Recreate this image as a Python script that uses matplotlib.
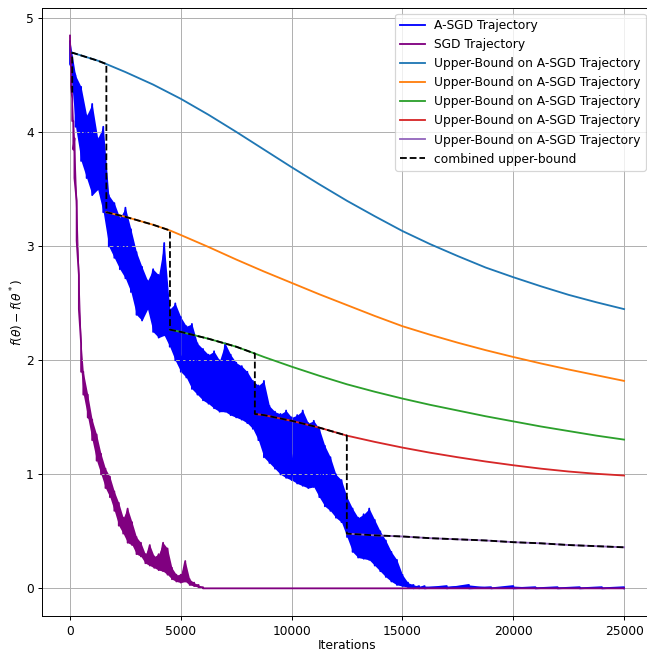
import numpy as np
import matplotlib.pyplot as plt

# A-SGD trajectory, noisy band (upper / lower edge)
asgd_it = list(range(0, 16001, 250)) + [17000, 18000, 19000, 20000, 21000, 22000, 23000, 24000, 25000]
asgd_hi = [4.80, 4.50, 4.40, 4.15, 4.25, 3.95, 4.05, 3.45, 3.38, 3.25, 3.34, 3.15, 2.95, 2.82, 2.70, 2.80,
           2.75, 3.03, 2.45, 2.50, 2.38, 2.30, 2.32, 2.15, 2.10, 2.05, 2.08, 2.00, 2.15, 2.05, 1.98, 1.95,
           1.90, 1.82, 1.78, 1.82, 1.60, 1.55, 1.53, 1.56, 1.50, 1.52, 1.56, 1.45, 1.47, 1.40, 1.25, 1.15,
           1.00, 0.95, 0.80, 0.70, 0.62, 0.65, 0.70, 0.60, 0.50, 0.42, 0.32, 0.25, 0.12, 0.05, 0.03, 0.02,
           0.02, 0.02, 0.03, 0.01, 0.02, 0.01, 0.01, 0.01, 0.01, 0.01]
asgd_lo = [4.60, 4.05, 3.75, 3.60, 3.45, 3.50, 3.30, 3.00, 2.90, 2.80, 2.72, 2.60, 2.40, 2.35, 2.45, 2.25,
           2.20, 2.22, 2.12, 2.00, 1.90, 1.85, 1.75, 1.70, 1.65, 1.62, 1.58, 1.55, 1.55, 1.52, 1.50, 1.48,
           1.45, 1.40, 1.30, 1.15, 1.10, 1.05, 1.00, 0.97, 0.95, 0.92, 0.90, 0.88, 0.89, 0.80, 0.72, 0.68,
           0.62, 0.58, 0.45, 0.32, 0.27, 0.26, 0.25, 0.20, 0.15, 0.10, 0.06, 0.03, 0.02, 0.01, 0.00, 0.00,
           0.00, 0.00, 0.00, 0.00, 0.00, 0.00, 0.00, 0.00, 0.00, 0.00]

# SGD trajectory
sgd_it = [0, 50, 100, 150, 200, 300, 400, 500, 600, 800, 1000, 1200, 1400, 1600, 1800, 2000, 2200, 2400,
          2600, 2800, 3000, 3200, 3400, 3600, 3800, 4000, 4200, 4400, 4600, 4800, 5000, 5200, 5400, 5600,
          5800, 6000, 6200, 25000]
sgd_hi = [4.85, 4.55, 4.30, 4.10, 3.95, 3.40, 2.75, 2.15, 1.90, 1.70, 1.48, 1.35, 1.18, 1.05, 0.98, 0.85,
          0.75, 0.62, 0.70, 0.58, 0.45, 0.40, 0.30, 0.38, 0.28, 0.30, 0.40, 0.35, 0.18, 0.12, 0.12, 0.24,
          0.08, 0.05, 0.03, 0.01, 0.00, 0.00]
sgd_lo = [4.80, 4.40, 4.10, 3.85, 3.60, 3.05, 2.45, 1.90, 1.70, 1.50, 1.30, 1.12, 1.00, 0.88, 0.80, 0.68,
          0.55, 0.48, 0.40, 0.38, 0.30, 0.28, 0.22, 0.20, 0.18, 0.16, 0.15, 0.12, 0.08, 0.06, 0.05, 0.06,
          0.03, 0.02, 0.01, 0.00, 0.00, 0.00]

# upper bounds, one per restart
ub1_it = [100, 1250, 1640, 2500, 3750, 5000, 6250, 7500, 8750, 10000, 11250, 12500, 13750, 15000,
          16250, 17500, 18750, 20000, 21250, 22500, 23750, 25000]
ub1 = [4.70, 4.63, 4.60, 4.53, 4.42, 4.295, 4.155, 4.005, 3.85, 3.695, 3.545, 3.40, 3.265, 3.135,
       3.02, 2.915, 2.815, 2.73, 2.65, 2.575, 2.51, 2.45]
ub2_it = [1640, 2500, 3750, 4510, 5000, 6250, 7500, 8750, 10000, 11250, 12500, 13750, 15000,
          16250, 17500, 18750, 20000, 21250, 22500, 23750, 25000]
ub2 = [3.30, 3.26, 3.19, 3.14, 3.10, 2.995, 2.885, 2.78, 2.68, 2.58, 2.485, 2.39, 2.30,
       2.225, 2.155, 2.09, 2.03, 1.973, 1.92, 1.87, 1.82]
ub3_it = [4510, 5000, 6250, 7500, 8340, 8750, 10000, 11250, 12500, 13750, 15000,
          16250, 17500, 18750, 20000, 21250, 22500, 23750, 25000]
ub3 = [2.27, 2.25, 2.19, 2.12, 2.06, 2.03, 1.945, 1.865, 1.79, 1.725, 1.665,
       1.61, 1.56, 1.51, 1.465, 1.42, 1.38, 1.34, 1.305]
ub4_it = [8340, 8750, 10000, 11250, 12490, 13750, 15000, 16250, 17500, 18750, 20000, 21250, 22500, 23750, 25000]
ub4 = [1.53, 1.52, 1.47, 1.41, 1.34, 1.285, 1.235, 1.19, 1.15, 1.113, 1.08, 1.05, 1.025, 1.005, 0.99]
ub5_it = [12490, 13750, 15000, 16250, 17500, 18750, 20000, 21250, 22500, 23750, 25000]
ub5 = [0.48, 0.465, 0.455, 0.44, 0.43, 0.42, 0.405, 0.395, 0.38, 0.37, 0.36]

restarts = [1640, 4510, 8340, 12490]
combined_start = 4.35

DPI = 88
fig = plt.figure(figsize=(647 / DPI, 651 / DPI), dpi=DPI)
ax = fig.add_axes([0.0654, 0.0538, 0.942, 0.934])

# trajectories: band + zigzag line between edges
ax.fill_between(asgd_it, asgd_lo, asgd_hi, color="blue", lw=0)
ax.plot(np.repeat(asgd_it, 2), np.column_stack([asgd_hi, asgd_lo]).ravel(), color="blue", lw=1.5,
        label="A-SGD Trajectory")
ax.fill_between(sgd_it, sgd_lo, sgd_hi, color="purple", lw=0)
ax.plot(np.repeat(sgd_it, 2), np.column_stack([sgd_hi, sgd_lo]).ravel(), color="purple", lw=1.5,
        label="SGD Trajectory")

bounds = [(ub1_it, ub1), (ub2_it, ub2), (ub3_it, ub3), (ub4_it, ub4), (ub5_it, ub5)]
cols = ["tab:blue", "tab:orange", "tab:green", "tab:red", "tab:purple"]
for (its, vals), c in zip(bounds, cols):
    ax.plot(its, vals, color=c, lw=1.5, label="Upper-Bound on A-SGD Trajectory")

# combined bound: each curve between its restart and the next one
edges = [-np.inf] + restarts + [np.inf]
cx, cy = [ub1_it[0]], [combined_start]
for k, (its, vals) in enumerate(bounds):
    for i, v in zip(its, vals):
        if edges[k] <= i <= edges[k + 1]:
            cx.append(i)
            cy.append(v)
ax.plot(cx, cy, "k--", lw=1.5, label="combined upper-bound")

ax.set_xlim(-1250, 26250)
ax.set_ylim(-0.2425, 5.0925)
ax.grid(True)
ax.set_xlabel("Iterations", labelpad=1.5)
ax.set_ylabel(r"$f(\theta) - f(\theta^*)$", labelpad=0)
ax.legend(loc="upper right")

fig.savefig("out.png", dpi=DPI)
